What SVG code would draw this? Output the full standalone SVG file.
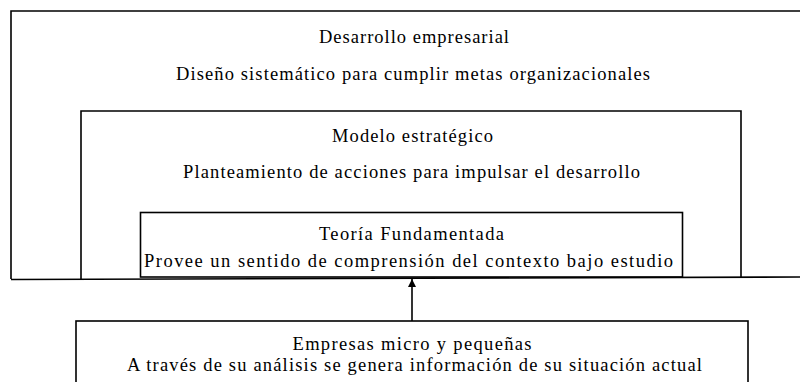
<svg xmlns="http://www.w3.org/2000/svg" width="800" height="382" viewBox="0 0 800 382">
<style>
.box{fill:none;stroke:#000;stroke-width:1.6}
.t{font-family:"Liberation Serif","Times New Roman",serif;font-size:18.5px;fill:#000;text-anchor:middle}
</style>
<defs>
<marker id="ah" viewBox="0 0 8 10" refX="8" refY="5" markerWidth="8" markerHeight="10" markerUnits="userSpaceOnUse" orient="auto">
<path d="M0,1 L8,5 L0,9 Z" fill="#000"/>
</marker>
</defs>
<rect width="800" height="382" fill="#fff"/>
<g id="desarrollo">
<path class="box" d="M11,279 V11 H800"/>
<path class="box" d="M11,279.5 L800,277"/>
<text class="t" x="414" y="43" textLength="190" lengthAdjust="spacing">Desarrollo empresarial</text>
<text class="t" x="413" y="80" textLength="474" lengthAdjust="spacing">Diseño sistemático para cumplir metas organizacionales</text>
</g>
<g id="modelo">
<path class="box" d="M81,279 V111 H741 V277.5"/>
<text class="t" x="412.5" y="142" textLength="161" lengthAdjust="spacing">Modelo estratégico</text>
<text class="t" x="411.5" y="178" textLength="457" lengthAdjust="spacing">Planteamiento de acciones para impulsar el desarrollo</text>
</g>
<g id="teoria">
<rect class="box" x="140.5" y="212.5" width="542" height="64.5"/>
<text class="t" x="411.5" y="240" textLength="185" lengthAdjust="spacing">Teoría Fundamentada</text>
<text class="t" x="408.5" y="266.5" textLength="529" lengthAdjust="spacing">Provee un sentido de comprensión del contexto bajo estudio</text>
</g>
<g id="empresas">
<rect class="box" x="76" y="321" width="672" height="90"/>
<text class="t" x="412" y="350" textLength="239" lengthAdjust="spacing">Empresas micro y pequeñas</text>
<text class="t" x="414.5" y="371" textLength="575" lengthAdjust="spacing">A través de su análisis se genera información de su situación actual</text>
</g>
<g id="connectors">
<line x1="412" y1="321" x2="412" y2="279" stroke="#000" stroke-width="1.6" marker-end="url(#ah)"/>
</g>
</svg>
